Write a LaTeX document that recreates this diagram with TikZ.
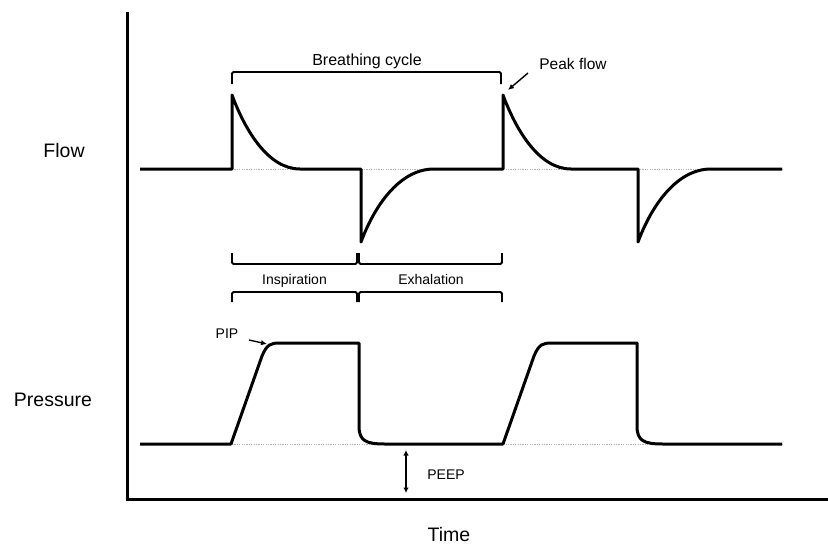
\documentclass[tikz,border=0pt]{standalone}
\usepackage{fontspec}
\setmainfont{Liberation Sans}
\usetikzlibrary{arrows.meta}

\begin{document}
\begin{tikzpicture}[x=1pt,y=-1pt,
    signal/.style={line width=3pt,line join=round},
    zero/.style={gray!60,dash pattern=on 1.2pt off 1.2pt,line width=1pt},
    brace/.style={line width=1.8pt,rounded corners=1.5pt},
    pointer/.style={line width=1.4pt,-{Latex[length=6pt,width=5.5pt]}},
    lbl/.style={anchor=base,inner sep=0pt,font=\fontsize{14}{16}\selectfont},
    axislbl/.style={anchor=base,inner sep=0pt,font=\fontsize{19.5}{22}\selectfont}]
    \useasboundingbox (0,0) rectangle (828,544);

    % axes
    \draw[line width=3pt] (127,12) -- (127,499) -- (828,499);
    \node[axislbl] (flow) at (64,157) {Flow};
    \node[axislbl] (pressure) at (53,406) {Pressure};
    \node[axislbl] (time) at (449,541) {Time};

    % zero lines
    \draw[zero] (232,169) -- (782,169);
    \draw[zero] (232,444) -- (782,444);

    % flow curve
    \draw[signal] (140,169) -- (232,169) -- (232,95)
        .. controls (245,130) and (268,169) .. (300,169) -- (361,169) -- (361,242)
        .. controls (374,207) and (399,169) .. (434,169) -- (503,169) -- (503,95)
        .. controls (516,130) and (539,169) .. (571,169) -- (638,169) -- (638,242)
        .. controls (651,207) and (676,169) .. (711,169) -- (782,169);

    % pressure curve
    \draw[signal] (140,444) -- (231,444) -- (262,356)
        .. controls (267,344) and (271,343) .. (280,343) -- (359,343) -- (359,426)
        .. controls (359,441) and (366,444) .. (385,444) -- (503,444) -- (534,356)
        .. controls (539,344) and (543,343) .. (552,343) -- (637,343) -- (637,426)
        .. controls (637,441) and (644,444) .. (663,444) -- (782,444);

    % brackets
    \draw[brace] (232,84) -- (232,72) -- (501,72) -- (501,84);
    \node[lbl,font=\fontsize{16}{18}\selectfont] (cycle) at (367,65) {Breathing cycle};
    \draw[brace] (232,253) -- (232,264) -- (357,264) -- (357,253);
    \draw[brace] (359,253) -- (359,264) -- (502,264) -- (502,253);
    \draw[brace] (232,302) -- (232,292) -- (357,292) -- (357,302);
    \draw[brace] (359,302) -- (359,292) -- (502,292) -- (502,302);
    \node[lbl] (insp) at (294.5,284) {Inspiration};
    \node[lbl] (exh) at (431,284) {Exhalation};

    % annotations
    \node[lbl,font=\fontsize{15.5}{18}\selectfont] (peakflow) at (573,69) {Peak flow};
    \coordinate (pf tail) at (528,73);
    \coordinate (pf head) at (508,90);
    \draw[pointer] (pf tail) -- (pf head);

    \node[lbl] (pip) at (227,338) {PIP};
    \coordinate (pip tail) at (249,340);
    \coordinate (pip head) at (267,344);
    \draw[pointer] (pip tail) -- (pip head);

    \node[lbl] (peep) at (446,479) {PEEP};
    \coordinate (peep top) at (406,450);
    \coordinate (peep bot) at (406,493);
    \draw[line width=1.4pt,{Latex[length=5.5pt,width=5.5pt]}-{Latex[length=5.5pt,width=5.5pt]}] (peep top) -- (peep bot);
\end{tikzpicture}
\end{document}
